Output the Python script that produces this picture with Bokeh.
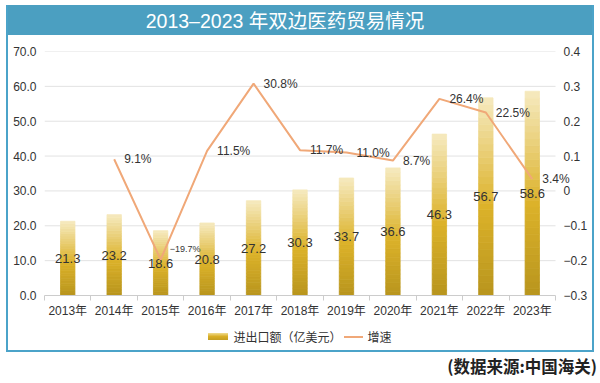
from bokeh.plotting import figure
from bokeh.models import (Range1d, LinearAxis, FixedTicker,
                          NumeralTickFormatter, CustomJSTickFormatter, Div, Spacer,
                          LabelSet, ColumnDataSource)
from bokeh.layouts import column, row
from bokeh.core.properties import value
from bokeh.embed import file_html
from bokeh.resources import INLINE

years = ["2013年", "2014年", "2015年", "2016年", "2017年", "2018年",
         "2019年", "2020年", "2021年", "2022年", "2023年"]
trade = [21.3, 23.2, 18.6, 20.8, 27.2, 30.3, 33.7, 36.6, 46.3, 56.7, 58.6]
growth_years = years[1:]
growth = [9.1, -19.7, 11.5, 30.8, 11.7, 11.0, 8.7, 26.4, 22.5, 3.4]
left_ticks = [0, 10, 20, 30, 40, 50, 60, 70]
right_ticks = [-0.3, -0.2, -0.1, 0.0, 0.1, 0.2, 0.3, 0.4]
legend_labels = ["进出口额（亿美元）", "增速"]

FONT = "'Liberation Sans', 'Noto Sans CJK SC'"
CJK = "'Noto Sans CJK SC'"
TXT = "#333333"
LINE_COLOR = "#f0a878"
FRAME_BLUE = "#4ba3c9"
TITLE_BLUE = "#4b9fc1"

idx = list(range(len(years)))
gidx = [years.index(y) for y in growth_years]
x_lo, x_hi = -0.5, len(years) - 0.5
EXTRA = 0.43  # room on the right so edge labels are not cut

p = figure(width=584, height=285, output_backend="svg", toolbar_location=None,
           x_range=Range1d(x_lo, x_hi + EXTRA), y_range=Range1d(left_ticks[0], left_ticks[-1]),
           min_border_left=36, min_border_right=17, min_border_top=16, min_border_bottom=24,
           margin=0)
p.outline_line_color = None
p.background_fill_color = "white"
p.border_fill_color = "white"
p.extra_y_ranges = {"g": Range1d(right_ticks[0], right_ticks[-1])}

# horizontal grid lines limited to the category span
p.segment(x0=[x_lo] * (len(left_ticks) - 1), x1=[x_hi] * (len(left_ticks) - 1),
          y0=left_ticks[1:], y1=left_ticks[1:], line_color="#e2e2e2", line_width=1,
          level="underlay")

def hex2rgb(h):
    h = h.lstrip("#")
    return [int(h[i:i + 2], 16) for i in (0, 2, 4)]

stops = [(0.0, hex2rgb("#b8951e")), (0.45, hex2rgb("#dcb22a")), (1.0, hex2rgb("#f6eac0"))]

def col_at(t):
    for (t0, c0), (t1, c1) in zip(stops[:-1], stops[1:]):
        if t <= t1:
            f = (t - t0) / (t1 - t0)
            return "#%02x%02x%02x" % tuple(int(round(a + (b - a) * f)) for a, b in zip(c0, c1))
    return "#%02x%02x%02x" % tuple(stops[-1][1])

N = 30
for i in range(N):
    t = (i + 0.5) / N
    c = col_at(t)
    p.vbar(x=idx, bottom=[v * i / N for v in trade], top=[v * (i + 1) / N for v in trade],
           width=0.31, fill_color=c, line_color=c, line_width=0.8)

p.text(x=idx, y=[v / 2 for v in trade], text=[f"{v:.1f}" for v in trade],
       text_align="center", text_baseline="middle", text_font=value(FONT),
       text_font_size="13px", text_color=TXT)

p.line(x=gidx, y=[g / 100 for g in growth], y_range_name="g",
       line_color=LINE_COLOR, line_width=2)

big = [(i, g) for i, g in zip(gidx, growth) if g > -15]
small = [(i, g) for i, g in zip(gidx, growth) if g <= -15]
src_big = ColumnDataSource(dict(x=[i for i, g in big], y=[g / 100 for i, g in big],
                                t=[f"{g:.1f}%" for i, g in big]))
src_small = ColumnDataSource(dict(x=[i for i, g in small], y=[g / 100 for i, g in small],
                                  t=["\u2212" + f"{abs(g):.1f}%" for i, g in small]))
p.add_layout(LabelSet(x="x", y="y", text="t", source=src_big, y_range_name="g",
                      x_offset=10, text_align="left", text_baseline="middle",
                      text_font=value(FONT), text_font_size="12px", text_color=TXT))
p.add_layout(LabelSet(x="x", y="y", text="t", source=src_small, y_range_name="g",
                      x_offset=9, y_offset=11, text_align="left", text_baseline="middle",
                      text_font=value(FONT), text_font_size="9px", text_color=TXT))

xa = p.xaxis[0]
xa.ticker = FixedTicker(ticks=idx, minor_ticks=[i - 0.5 for i in range(len(years) + 1)])
xa.major_label_overrides = {i: y for i, y in enumerate(years)}
xa.bounds = (x_lo, x_hi)
xa.major_tick_out = 0
xa.major_tick_in = 0
xa.minor_tick_out = 5
xa.minor_tick_in = 0
xa.minor_tick_line_color = "#cccccc"
xa.axis_line_color = "#cccccc"
xa.major_label_text_font = FONT
xa.major_label_text_font_size = "12px"
xa.major_label_text_color = TXT
xa.major_label_standoff = 3

ya = p.yaxis[0]
ya.ticker = FixedTicker(ticks=left_ticks)
ya.formatter = NumeralTickFormatter(format="0.0")
ya.axis_line_color = None
ya.major_tick_line_color = None
ya.major_tick_out = 0
ya.major_tick_in = 0
ya.minor_tick_line_color = None
ya.major_label_standoff = 8
ya.major_label_text_font = FONT
ya.major_label_text_font_size = "12px"
ya.major_label_text_color = TXT

ra = LinearAxis(y_range_name="g",
                ticker=FixedTicker(ticks=right_ticks),
                formatter=CustomJSTickFormatter(code="""
                    if (Math.abs(tick) < 1e-9) return '0';
                    return (tick < 0 ? '\u2212' : '') + Math.abs(tick).toFixed(1);
                """))
ra.axis_line_color = None
ra.major_tick_line_color = None
ra.major_tick_out = 0
ra.major_tick_in = 0
ra.minor_tick_line_color = None
ra.major_label_standoff = -12
ra.major_label_text_font = FONT
ra.major_label_text_font_size = "12px"
ra.major_label_text_color = TXT
p.add_layout(ra, "right")

p.xgrid.grid_line_color = None
p.ygrid.grid_line_color = None

title = Div(text="2013–2023 年双边医药贸易情况", width=584, height=30, margin=0,
            styles={"background-color": TITLE_BLUE, "color": "white", "font-size": "19.5px",
                    "text-align": "center", "line-height": "32px", "padding-right": "30px",
                    "box-sizing": "border-box", "font-family": FONT})

legend_html = (
    f'<span style="display:inline-block;width:20px;height:7px;margin-right:5px;vertical-align:middle;'
    'background:linear-gradient(#f0dc90,#d9ae26 50%,#c49e22)"></span>'
    f'<span style="vertical-align:middle">{legend_labels[0]}</span>'
    f'<span style="display:inline-block;width:19px;height:2px;margin:0 5px 0 2px;vertical-align:middle;'
    f'background:{LINE_COLOR}"></span>'
    f'<span style="vertical-align:middle">{legend_labels[1]}</span>'
)
legend_div = Div(text=legend_html, width=584, height=30, margin=0,
                 styles={"text-align": "center", "line-height": "30px", "font-size": "12px",
                         "color": TXT, "font-family": CJK, "background-color": "white"})

center = column(title, p, legend_div, margin=0, spacing=0)
lbar = Div(text="", width=2, height=345, margin=0, styles={"background-color": FRAME_BLUE})
rbar = Div(text="", width=2, height=345, margin=0, styles={"background-color": FRAME_BLUE})
bbar = Div(text="", width=588, height=2, margin=0, styles={"background-color": FRAME_BLUE})
boxed = row(lbar, center, rbar, margin=0, spacing=0)

src = Div(text="(数据来源:中国海关)", width=591, height=28, margin=0,
          styles={"text-align": "right", "font-size": "16.5px", "font-weight": "bold",
                  "color": "#222222", "font-family": CJK, "line-height": "28px"})
body = column(boxed, bbar, src, margin=0, spacing=0)
layout = column(Spacer(width=600, height=5, margin=0),
                row(Spacer(width=6, height=10, margin=0), body, margin=0, spacing=0),
                margin=0, spacing=0)

open("out.html", "w").write(file_html(layout, INLINE))
